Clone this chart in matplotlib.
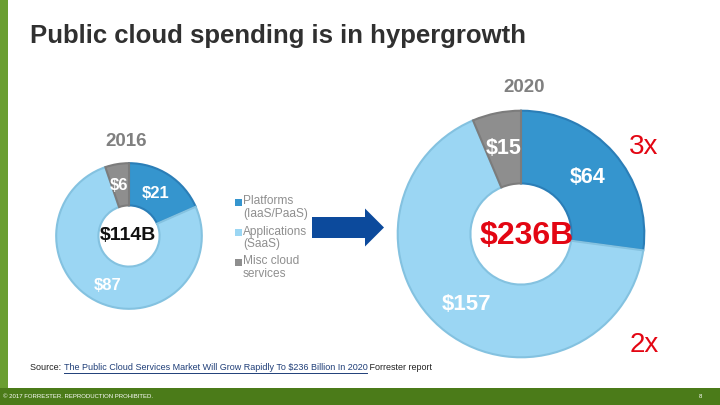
import matplotlib
matplotlib.use("Agg")
import matplotlib.pyplot as plt
from matplotlib.patches import Rectangle, FancyArrow

W, H = 720, 405
DPI = 100

# ---- data ----
categories = ["Platforms\n(IaaS/PaaS)", "Applications\n(SaaS)", "Misc cloud\nservices"]
values_2016 = [21, 87, 6]
values_2020 = [64, 157, 15]
total_2016 = "$114B"
total_2020 = "$236B"
year_labels = ["2016", "2020"]
growth_labels = ["3x", "2x"]

face_colors = ["#3595CE", "#9BD6F3", "#8E8E8E"]
edge_colors = ["#2B7EB7", "#84C2E0", "#7C7C7C"]

plt.rcParams['font.family'] = ['Liberation Sans', 'DejaVu Sans']

fig = plt.figure(figsize=(W / DPI, H / DPI), dpi=DPI)
fig.patch.set_facecolor("white")


def fx(x):
    return x / W


def fy(y):
    return 1 - y / H


# background bars
fig.patches.append(Rectangle((0, fy(388)), fx(8), 388 / H, transform=fig.transFigure,
                             facecolor="#6A9E31", edgecolor="none", zorder=0))
fig.patches.append(Rectangle((0, 0), 1, 17 / H, transform=fig.transFigure,
                             facecolor="#4B7B19", edgecolor="none", zorder=0))

# title
fig.text(fx(30), fy(36), "Public cloud spending is in hypergrowth", fontsize=18.5,
         fontweight="bold", color="#303030", ha="left", va="center")


def donut(cx, cy, R, vals, hole):
    ax = fig.add_axes([fx(cx - R), fy(cy + R), 2 * R / W, 2 * R / H])
    wedges, _ = ax.pie(vals, colors=face_colors, startangle=90, counterclock=False,
                       radius=1, wedgeprops=dict(width=1 - hole, linewidth=1.5))
    for w, ec in zip(wedges, edge_colors):
        w.set_edgecolor(ec)
    ax.set_xlim(-1.03, 1.03)
    ax.set_ylim(-1.03, 1.03)
    ax.set_aspect("equal")
    ax.axis("off")
    return ax


donut(129, 236, 75, values_2016, 0.42)
donut(521, 234, 127, values_2020, 0.41)

# wedge value labels
lab = dict(fontweight="bold", color="white", ha="center", va="center")
fig.text(fx(156), fy(193), f"${values_2016[0]}", fontsize=12, **lab)
fig.text(fx(119), fy(186), f"${values_2016[2]}", fontsize=12, **lab)
fig.text(fx(108), fy(285), f"${values_2016[1]}", fontsize=12, **lab)
fig.text(fx(128), fy(236), total_2016, fontsize=14, fontweight="bold", color="#111111",
         ha="center", va="center")

fig.text(fx(588), fy(177), f"${values_2020[0]}", fontsize=15.5, **lab)
fig.text(fx(504), fy(148), f"${values_2020[2]}", fontsize=15.5, **lab)
fig.text(fx(467), fy(305), f"${values_2020[1]}", fontsize=16, **lab)
fig.text(fx(527), fy(236), total_2020, fontsize=23, fontweight="bold", color="#E30613",
         ha="center", va="center")

# years
fig.text(fx(126), fy(142), year_labels[0], fontsize=13.5, fontweight="bold", color="#808080",
         ha="center", va="center")
fig.text(fx(524), fy(88), year_labels[1], fontsize=13.5, fontweight="bold", color="#808080",
         ha="center", va="center")

# growth
fig.text(fx(644), fy(147), growth_labels[0], fontsize=20, color="#E30613",
         ha="center", va="center")
fig.text(fx(644), fy(345), growth_labels[1], fontsize=20, color="#E30613",
         ha="center", va="center")

# legend
leg_y = [202, 232, 262]
for cat, col, y in zip(categories, face_colors, leg_y):
    fig.patches.append(Rectangle((fx(235), fy(y + 3.5)), 6.5 / W, 6.5 / H,
                                 transform=fig.transFigure, facecolor=col, edgecolor="none"))
    fig.text(fx(243), fy(y - 6.5), cat, fontsize=8.6, color="#8F8F8F", ha="left", va="top",
             linespacing=1.1)

# arrow
arr_ax = fig.add_axes([0, 0, 1, 1], facecolor="none")
arr_ax.set_xlim(0, W)
arr_ax.set_ylim(H, 0)
arr_ax.axis("off")
arr_ax.add_patch(FancyArrow(312, 227.5, 72, 0, width=21, head_width=38, head_length=19,
                            length_includes_head=True, color="#0C4A9C", linewidth=0))

# source line
fig.canvas.draw()
r = fig.canvas.get_renderer()
src_font = dict(fontsize=6.5)
x0 = 30
t1 = fig.text(fx(x0), fy(368), "Source: ", color="#222222", ha="left", va="center", **src_font)
bb = t1.get_window_extent(r)
x1 = bb.x1
t2 = fig.text(x1 / W, fy(368), "The Public Cloud Services Market Will Grow Rapidly To $236 Billion In 2020",
              color="#1F3E78", ha="left", va="center", **src_font)
bb2 = t2.get_window_extent(r)
arr_ax.plot([bb2.x0, bb2.x1], [373, 373], color="#1F3E78", lw=0.7)
fig.text(bb2.x1 / W, fy(368), " Forrester report", color="#222222", ha="left", va="center",
         **src_font)

# footer
fig.text(fx(3), fy(397), "© 2017 FORRESTER. REPRODUCTION PROHIBITED.", fontsize=4.3,
         color="white", ha="left", va="center")
fig.text(fx(700), fy(397), "8", fontsize=4.3, color="white", ha="center", va="center")

fig.savefig("out.png", dpi=DPI)
